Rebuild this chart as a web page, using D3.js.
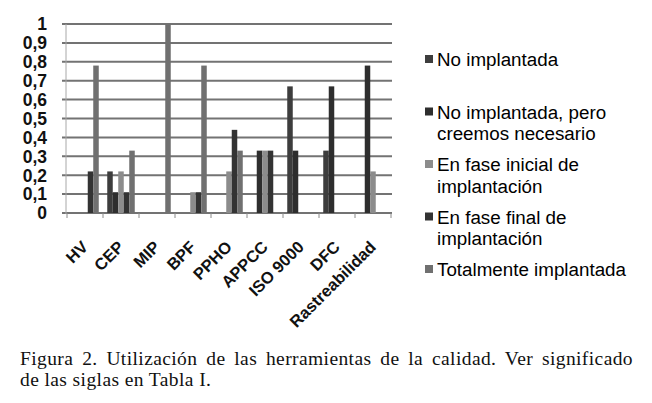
<!DOCTYPE html>
<html>
<head>
<meta charset="utf-8">
<script src="https://cdn.jsdelivr.net/npm/d3@7"></script>
<style>
  html, body { margin: 0; padding: 0; background: #fff; }
  svg { display: block; }
</style>
</head>
<body>
<div id="chart"></div>
<script>
// ---------- DATA ----------
const categories = ["HV", "CEP", "MIP", "BPF", "PPHO", "APPCC", "ISO 9000", "DFC", "Rastreabilidad"]
const seriesNames = [
  ["No implantada"],
  ["No implantada, pero", "creemos necesario"],
  ["En fase inicial de", "implantación"],
  ["En fase final de", "implantación"],
  ["Totalmente implantada"],
]
const seriesColors = ["#3d3d3d", "#2e2e2e", "#8c8c8c", "#333333", "#707070"]

const noImplantada      = [0,    0.22, 0, 0,    0,    0,    0.67, 0.33, 0]
const noImplNecesario   = [0,    0.11, 0, 0,    0,    0.33, 0.33, 0.67, 0.78]
const faseInicial       = [0,    0.22, 0, 0.11, 0.22, 0.33, 0,    0,    0.22]
const faseFinal         = [0.22, 0.11, 0, 0.11, 0.44, 0.33, 0,    0,    0]
const totalmente        = [0.78, 0.33, 1, 0.78, 0.33, 0,    0,    0,    0]
const seriesValues = [noImplantada, noImplNecesario, faseInicial, faseFinal, totalmente]

const yTicks = [0, 0.1, 0.2, 0.3, 0.4, 0.5, 0.6, 0.7, 0.8, 0.9, 1]
const caption = [
  "Figura 2. Utilización de las herramientas de la calidad. Ver significado",
  "de las siglas en Tabla I.",
]

// ---------- LAYOUT ----------
const W = 652, H = 403
const plot = { left: 66, right: 391, top: 24, bottom: 213 }
const sans = "'Liberation Sans', Arial, sans-serif"
const serif = "'Liberation Serif', 'Times New Roman', serif"

const svg = d3.select("#chart").append("svg").attr("width", W).attr("height", H)

const x = d3.scaleBand().domain(categories).range([plot.left + 1, plot.right]).padding(0)
const gap = x.bandwidth() * 0.118
const x1 = d3.scaleBand().domain(d3.range(seriesValues.length)).range([gap, x.bandwidth() - gap])
const y = d3.scaleLinear().domain([0, 1]).range([plot.bottom, plot.top])

const fmt = d3.formatLocale({ decimal: ",", thousands: ".", grouping: [3], currency: ["", "€"] }).format("~g")

// gridlines
svg.append("g")
  .selectAll("line")
  .data(yTicks)
  .join("line")
  .attr("x1", plot.left - 4)
  .attr("x2", plot.right + 1)
  .attr("y1", (d) => y(d))
  .attr("y2", (d) => y(d))
  .attr("stroke", "#737373")
  .attr("stroke-width", 2)

// y axis line
svg.append("line")
  .attr("x1", plot.left).attr("x2", plot.left)
  .attr("y1", plot.top).attr("y2", plot.bottom + 1)
  .attr("stroke", "#a8a8a8").attr("stroke-width", 1)

// x ticks at category boundaries
const bounds = categories.map((c) => x(c)).concat([x(categories[categories.length - 1]) + x.bandwidth()])
svg.append("g")
  .selectAll("line")
  .data(bounds)
  .join("line")
  .attr("x1", (d) => d).attr("x2", (d) => d)
  .attr("y1", plot.bottom).attr("y2", plot.bottom + 5)
  .attr("stroke", "#8a8a8a").attr("stroke-width", 1)

// bars
const rows = []
seriesValues.forEach((vals, s) => vals.forEach((v, i) => { if (v > 0) rows.push({ s, cat: categories[i], v }) }))
svg.append("g")
  .selectAll("rect")
  .data(rows)
  .join("rect")
  .attr("x", (d) => x(d.cat) + x1(d.s))
  .attr("width", x1.bandwidth())
  .attr("y", (d) => y(d.v))
  .attr("height", (d) => y(0) - y(d.v))
  .attr("fill", (d) => seriesColors[d.s])

// y labels
svg.append("g")
  .selectAll("text")
  .data(yTicks)
  .join("text")
  .attr("x", 47)
  .attr("y", (d) => y(d))
  .attr("dy", "0.36em")
  .attr("text-anchor", "end")
  .attr("font-family", sans)
  .attr("font-size", 17.5)
  .attr("font-weight", "bold")
  .attr("fill", "#111")
  .text((d) => fmt(d))

// x labels, rotated
svg.append("g")
  .selectAll("text")
  .data(categories)
  .join("text")
  .attr("transform", (d) => `translate(${x(d) + x.bandwidth() / 2 + 4},${plot.bottom + 35}) rotate(-45)`)
  .attr("text-anchor", "end")
  .attr("font-family", sans)
  .attr("font-size", 16.5)
  .attr("font-weight", "bold")
  .attr("fill", "#111")
  .text((d) => d)

// legend
const legend = svg.append("g")
seriesNames.forEach((lines, i) => {
  const base = 66 + i * 52.5
  legend.append("rect")
    .attr("x", 425).attr("y", base - 11)
    .attr("width", 8).attr("height", 8)
    .attr("fill", seriesColors[i])
  lines.forEach((t, j) => {
    legend.append("text")
      .attr("x", 437).attr("y", base + j * 21.5)
      .attr("font-family", sans).attr("font-size", 18.8)
      .attr("fill", "#000")
      .text(t)
  })
})

// caption (first line justified)
const capW = 613
caption.forEach((t, j) => {
  const txt = svg.append("text")
    .attr("x", 20).attr("y", 365 + j * 21)
    .attr("font-family", serif).attr("font-size", 19.5)
    .attr("letter-spacing", 0.4)
    .attr("fill", "#111")
    .text(t)
  if (j === 0) {
    const natural = txt.node().getComputedTextLength()
    const spaces = t.split(" ").length - 1
    txt.attr("word-spacing", Math.max(0, (capW - natural) / spaces))
  }
})
</script>
</body>
</html>
